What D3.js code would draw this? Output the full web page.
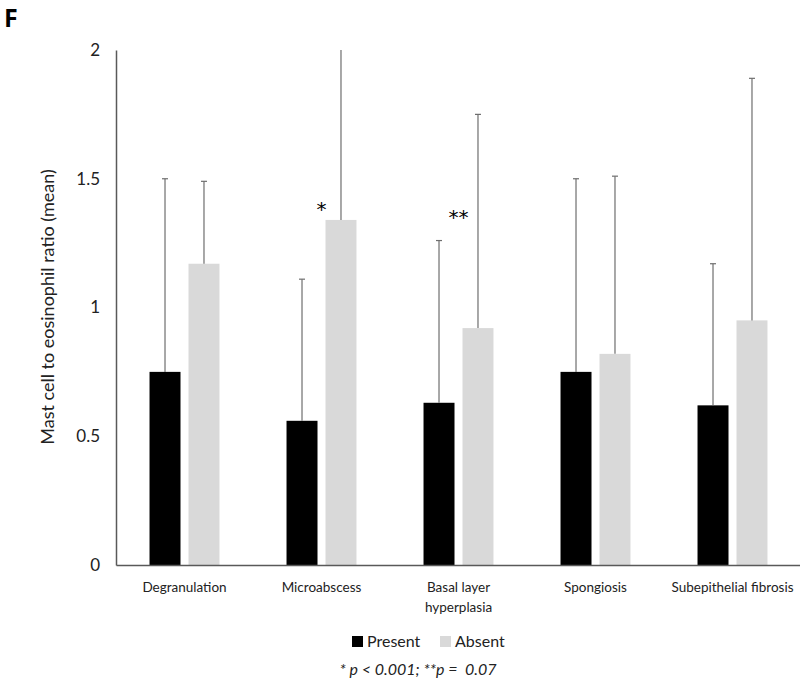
<!DOCTYPE html>
<html><head><meta charset="utf-8">
<script src="https://cdn.jsdelivr.net/npm/d3@7"></script>
<style>body{margin:0;background:#fff}svg{display:block}</style>
</head><body>
<svg id="c" width="800" height="685"></svg>
<script>
const categories = ["Degranulation","Microabscess","Basal layer hyperplasia","Spongiosis","Subepithelial fibrosis"];
const categoryLines = [["Degranulation"],["Microabscess"],["Basal layer","hyperplasia"],["Spongiosis"],["Subepithelial fibrosis"]];
const series = ["Present","Absent"];
const presentMeans = [0.75, 0.56, 0.63, 0.75, 0.62];
const absentMeans  = [1.17, 1.34, 0.92, 0.82, 0.95];
const presentUpper = [1.50, 1.11, 1.26, 1.50, 1.17];
const absentUpper  = [1.49, 2.10, 1.75, 1.51, 1.89];
const markers = ["", "*", "**", "", ""];
const yTicks = [0, 0.5, 1, 1.5, 2];
const footnote = "* p < 0.001; **p =  0.07";
const colors = {Present:"#000000", Absent:"#d9d9d9"};

const FONT = "Lato, 'Open Sans', sans-serif";
const svg = d3.select("#c");
const yMax = 2;
const y = d3.scaleLinear().domain([0,yMax]).range([565,50]);
const x = d3.scaleBand().domain(categories).range([116,801]);
const xs = d3.scaleBand().domain(series).range([0,x.bandwidth()]).paddingInner(0.205).paddingOuter(0.86);

const rows = categories.map((c,i)=>({c,i,vals:[
  {s:"Present",v:presentMeans[i],u:presentUpper[i]},
  {s:"Absent",v:absentMeans[i],u:absentUpper[i]}]}));

// panel letter
svg.append("text").attr("x",4).attr("y",27).attr("font-family","'Open Sans', sans-serif")
  .attr("font-weight","bold").attr("font-size",25).text("F");

// bars
const g = svg.append("g");
const cat = g.selectAll("g.cat").data(rows).join("g").attr("class","cat")
  .attr("transform",d=>`translate(${x(d.c)},0)`);
cat.selectAll("rect").data(d=>d.vals).join("rect")
  .attr("x",d=>xs(d.s)).attr("width",xs.bandwidth())
  .attr("y",d=>y(d.v)).attr("height",d=>y(0)-y(d.v))
  .attr("fill",d=>colors[d.s]);

// error bars (upper only), truncated at axis max
const eb = cat.selectAll("g.eb").data(d=>d.vals).join("g").attr("class","eb");
eb.append("line")
  .attr("x1",d=>xs(d.s)+xs.bandwidth()/2).attr("x2",d=>xs(d.s)+xs.bandwidth()/2)
  .attr("y1",d=>y(d.v)).attr("y2",d=>y(Math.min(d.u,yMax)))
  .attr("stroke","#6e6e6e").attr("stroke-width",1.2);
eb.filter(d=>d.u<=yMax).append("line")
  .attr("x1",d=>xs(d.s)+xs.bandwidth()/2-3).attr("x2",d=>xs(d.s)+xs.bandwidth()/2+3)
  .attr("y1",d=>y(d.u)).attr("y2",d=>y(d.u))
  .attr("stroke","#6e6e6e").attr("stroke-width",1.2);

// significance markers
cat.append("text").text(d=>markers[d.i])
  .attr("x",x.bandwidth()/2).attr("y",d=>d.i===1?216:224)
  .attr("text-anchor","middle").attr("font-family","'DejaVu Sans', sans-serif").attr("font-size",20).attr("fill","#000");

// axes
const yAxis = d3.axisLeft(y).tickValues(yTicks).tickSize(0).tickPadding(16).tickFormat(d3.format("~g"));
const ya = svg.append("g").attr("transform","translate(116,0)").call(yAxis);
ya.select(".domain").attr("stroke","#595959").attr("stroke-width",1.5);
ya.selectAll("text").attr("font-family",FONT).attr("font-size",17).attr("fill","#222");

const xa = svg.append("g").attr("transform",`translate(0,${y(0)})`).call(d3.axisBottom(x).tickSize(0).tickFormat(""));
xa.select(".domain").attr("stroke","#595959").attr("stroke-width",1.5);
xa.selectAll(".tick").each(function(d,i){
  const t = d3.select(this).append("text").attr("fill","#222").attr("font-family",FONT).attr("font-size",13.5)
    .attr("text-anchor","middle");
  categoryLines[i].forEach((ln,j)=>t.append("tspan").attr("x",0).attr("y",27+j*20).text(ln));
});

// y label
svg.append("text").attr("transform","translate(54,307) rotate(-90)").attr("text-anchor","middle")
  .attr("font-family",FONT).attr("font-size",18).attr("fill","#222").text("Mast cell to eosinophil ratio (mean)");

// legend
const lg = svg.append("g");
const legPos = [{s:"Present",x:352},{s:"Absent",x:440}];
legPos.forEach(p=>{
  lg.append("rect").attr("x",p.x).attr("y",636).attr("width",11).attr("height",11).attr("fill",colors[p.s]);
  lg.append("text").attr("x",p.x+15).attr("y",647).attr("font-family",FONT).attr("font-size",16).attr("fill","#222").text(p.s);
});

// footnote
svg.append("text").attr("x",418).attr("y",675).attr("text-anchor","middle").attr("font-family",FONT)
  .style("white-space","pre")
  .attr("font-style","italic").attr("font-size",16).attr("fill","#222").text(footnote);
</script>
</body></html>
